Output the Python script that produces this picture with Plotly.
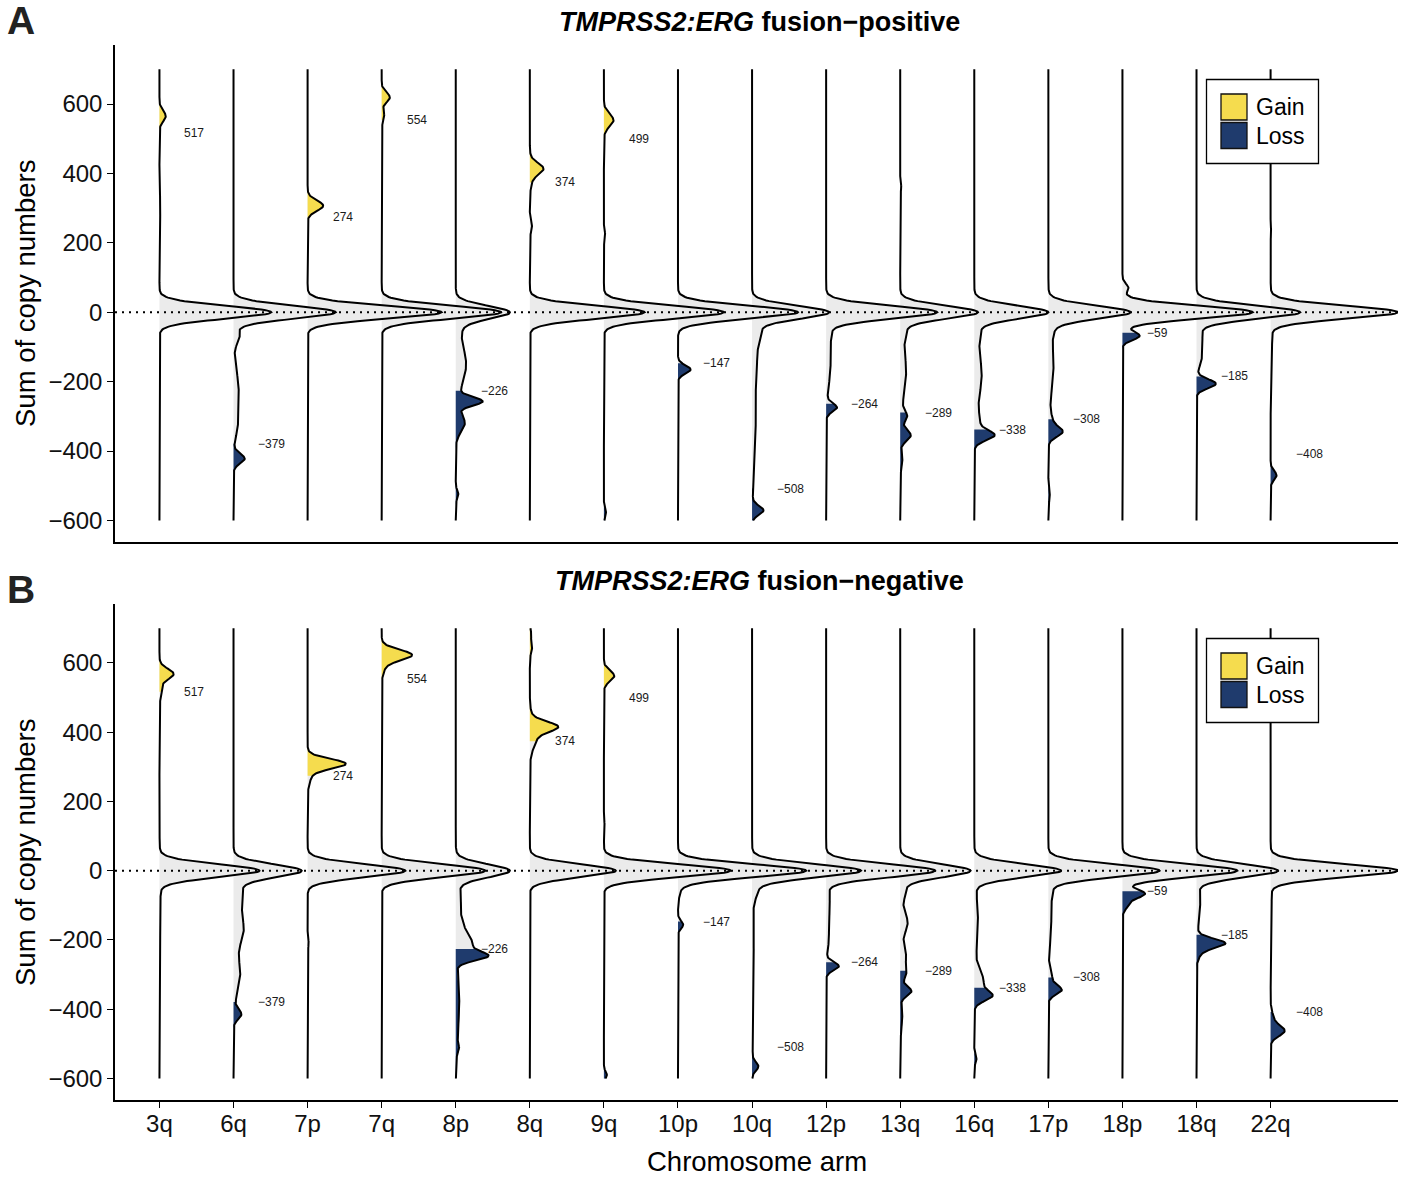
import numpy as np
import plotly.graph_objects as go

# ---------------- data ----------------
ARMS = ["3q", "6q", "7p", "7q", "8p", "8q", "9q", "10p", "10q", "12p",
        "13q", "16q", "17p", "18p", "18q", "22q"]
# labelled gain/loss cut-off per arm (sum of copy numbers)
CUT_VALUES = [517, -379, 274, 554, -226, 374, 499, -147, -508, -264,
              -289, -338, -308, -59, -185, -408]
# un-labelled secondary loss cut-offs
EXTRA_LOSS_ARMS = ["9q"]
EXTRA_LOSS_CUTS = [-560]

Y_TICKS = [-600, -400, -200, 0, 200, 400, 600]
Y_TICK_TEXT = ["\u2212600", "\u2212400", "\u2212200", "0", "200", "400", "600"]
Y_SUPPORT = [-600, 700]
CENTRAL_SD = 18.5

# height of density at 0 (in units of one category spacing)
POS_PEAK = [1.51, 1.38, 1.81, 1.61, 0.73, 1.55, 1.62, 1.62, 1.04, 1.50,
            1.05, 1.00, 1.11, 1.76, 1.40, 1.72]
NEG_PEAK = [1.35, 0.92, 1.32, 1.40, 0.73, 1.16, 1.71, 1.73, 1.47, 1.47,
            0.95, 1.17, 1.50, 1.55, 1.10, 1.72]

# density components: (arm, centre, sd, height)
POS_COMPONENTS = [
    ("3q", 565, 15, 0.085), ("3q", 300, 40, 0.012),
    ("6q", -422, 14, 0.15), ("6q", -70, 20, 0.08), ("6q", -230, 60, 0.07), ("6q", -330, 30, 0.04),
    ("7p", 307, 15, 0.21),
    ("7q", 619, 14, 0.11), ("7q", 565, 15, 0.035),
    ("8p", -257, 12, 0.33), ("8p", -150, 60, 0.14), ("8p", -40, 25, 0.05),
    ("8p", -320, 25, 0.12), ("8p", -525, 12, 0.035),
    ("8q", 414, 16, 0.16), ("8q", 395, 30, 0.03), ("8q", 245, 14, 0.03),
    ("9q", 553, 18, 0.13), ("9q", 220, 12, 0.02), ("9q", -580, 12, 0.03),
    ("10p", -165, 12, 0.17),
    ("10q", -571, 13, 0.15), ("10q", -60, 30, 0.10), ("10q", -150, 60, 0.06), ("10q", -350, 100, 0.05),
    ("12p", -275, 12, 0.14), ("12p", -150, 60, 0.06), ("12p", -60, 25, 0.05),
    ("13q", -355, 16, 0.14), ("13q", -300, 15, 0.08), ("13q", -170, 70, 0.08),
    ("13q", -60, 20, 0.06), ("13q", -430, 20, 0.03), ("13q", 360, 10, 0.015),
    ("16q", -355, 14, 0.24), ("16q", -320, 30, 0.06), ("16q", -180, 70, 0.10), ("16q", -60, 25, 0.06),
    ("17p", -345, 14, 0.16), ("17p", -320, 25, 0.05), ("17p", -150, 80, 0.07),
    ("17p", -50, 20, 0.04), ("17p", -530, 15, 0.02),
    ("18p", -68, 12, 0.23), ("18p", 70, 12, 0.08),
    ("18q", -206, 13, 0.26), ("18q", -80, 40, 0.08), ("18q", -140, 20, 0.04),
    ("22q", -470, 13, 0.08), ("22q", -100, 80, 0.02), ("22q", 230, 10, 0.01),
]
NEG_COMPONENTS = [
    ("3q", 568, 15, 0.19), ("3q", 520, 20, 0.03), ("3q", -100, 100, 0.015),
    ("6q", -415, 14, 0.10), ("6q", -70, 40, 0.12), ("6q", -170, 40, 0.13), ("6q", -300, 50, 0.09),
    ("7p", 309, 14, 0.49), ("7p", 280, 25, 0.05), ("7p", -210, 12, 0.015),
    ("7q", 623, 15, 0.40), ("7q", 590, 20, 0.04),
    ("8p", -247, 13, 0.38), ("8p", -210, 22, 0.20), ("8p", -165, 20, 0.06),
    ("8p", -100, 60, 0.07), ("8p", -400, 80, 0.05), ("8p", -515, 10, 0.03),
    ("8q", 416, 14, 0.30), ("8q", 395, 35, 0.10), ("8q", 640, 12, 0.03), ("8q", 680, 15, 0.02),
    ("9q", 562, 15, 0.14), ("9q", -590, 10, 0.04), ("9q", 120, 15, 0.015),
    ("10p", -156, 11, 0.07), ("10p", -50, 25, 0.03),
    ("10q", -565, 12, 0.08), ("10q", -50, 30, 0.07), ("10q", -300, 150, 0.025),
    ("12p", -276, 12, 0.17), ("12p", -100, 50, 0.05), ("12p", -200, 30, 0.03),
    ("13q", -348, 14, 0.15), ("13q", -300, 15, 0.06), ("13q", -250, 30, 0.08),
    ("13q", -150, 30, 0.10), ("13q", -60, 25, 0.07), ("13q", -430, 30, 0.03),
    ("16q", -362, 14, 0.20), ("16q", -320, 30, 0.12), ("16q", -150, 80, 0.05), ("16q", -545, 10, 0.03),
    ("17p", -345, 13, 0.17), ("17p", -310, 20, 0.05), ("17p", -150, 60, 0.04), ("17p", -60, 25, 0.04),
    ("18p", -66, 12, 0.29), ("18p", -95, 15, 0.08),
    ("18q", -209, 13, 0.35), ("18q", -230, 20, 0.06), ("18q", -100, 50, 0.05),
    ("22q", -463, 15, 0.18), ("22q", -430, 20, 0.04), ("22q", -150, 80, 0.02),
]

PANELS = [
    {"title": "<b><i>TMPRSS2:ERG</i> fusion\u2212positive</b>", "letter": "A",
     "peak": POS_PEAK, "comps": POS_COMPONENTS},
    {"title": "<b><i>TMPRSS2:ERG</i> fusion\u2212negative</b>", "letter": "B",
     "peak": NEG_PEAK, "comps": NEG_COMPONENTS},
]

# ---------------- styling ----------------
W, H = 1411, 1177
ML, MR, MT, MB = 115, 13, 45, 77
PW, PH = W - ML - MR, H - MT - MB
GAIN_COL = "#F5DC4E"
LOSS_COL = "#1F3B6D"
GREY_COL = "#EBEBEB"
FONT = "Liberation Sans, Arial, Helvetica, sans-serif"
X_RANGE = [-0.6, 16.72]
Y_RANGE = [-662, 770]
DOMAINS = [[(H - MB - 542) / PH, 1.0], [0.0, (H - MB - 604) / PH]]


def px_x(px):
    return (px - ML) / PW


def px_y(py):
    return (H - MB - py) / PH


def density(ys, arm, peak, comps):
    parts = [(c, s, h) for a, c, s, h in comps if a == arm]
    at0 = sum(h * np.exp(-c ** 2 / (2 * s ** 2)) for c, s, h in parts)
    f = max(peak - at0, 0.0) * np.exp(-ys ** 2 / (2 * CENTRAL_SD ** 2))
    for c, s, h in parts:
        f = f + h * np.exp(-(ys - c) ** 2 / (2 * s ** 2))
    return f


fig = go.Figure()
cuts_all = CUT_VALUES + EXTRA_LOSS_CUTS
ys = np.union1d(np.arange(Y_SUPPORT[0], Y_SUPPORT[1] + 1, 2), np.array(cuts_all)).astype(float)

annotations = []
shapes = []

for p, panel in enumerate(PANELS):
    xa = "x" if p == 0 else "x2"
    ya = "y" if p == 0 else "y2"
    curves = []
    for i, arm in enumerate(ARMS):
        f = density(ys, arm, panel["peak"][i], panel["comps"])
        curves.append(f)
        # grey fill of whole ridge
        fig.add_trace(go.Scatter(
            x=np.concatenate([[i], i + f, [i]]),
            y=np.concatenate([[ys[0]], ys, [ys[-1]]]),
            fill="toself", fillcolor=GREY_COL, mode="none",
            hoverinfo="skip", showlegend=False, xaxis=xa, yaxis=ya))
        regions = []
        cut = CUT_VALUES[i]
        if cut > 0:
            regions.append((ys >= cut, GAIN_COL))
        else:
            regions.append((ys <= cut, LOSS_COL))
        if arm in EXTRA_LOSS_ARMS:
            regions.append((ys <= EXTRA_LOSS_CUTS[EXTRA_LOSS_ARMS.index(arm)], LOSS_COL))
        for mask, col in regions:
            yy = ys[mask]
            ff = f[mask]
            fig.add_trace(go.Scatter(
                x=np.concatenate([[i], i + ff, [i]]),
                y=np.concatenate([[yy[0]], yy, [yy[-1]]]),
                fill="toself", fillcolor=col, mode="none",
                hoverinfo="skip", showlegend=False, xaxis=xa, yaxis=ya))
    for i, arm in enumerate(ARMS):
        fig.add_trace(go.Scatter(
            x=i + curves[i], y=ys, mode="lines",
            line=dict(color="black", width=2.0),
            hoverinfo="skip", showlegend=False, xaxis=xa, yaxis=ya))
        cut = CUT_VALUES[i]
        annotations.append(dict(
            x=i + 0.31, y=cut, xref=xa, yref=ya, xanchor="left", yanchor="middle",
            text=("\u2212" + str(-cut)) if cut < 0 else str(cut), showarrow=False,
            font=dict(size=12, color="#1a1a1a", family=FONT)))
    # dotted zero line
    shapes.append(dict(type="line", xref=xa + " domain", yref=ya, x0=0, x1=1, y0=0, y1=0,
                       line=dict(color="black", width=2.0, dash="2px,5px"), layer="above"))
    # titles & letters
    off = 0 if p == 0 else 559
    annotations.append(dict(x=px_x(759), y=px_y(22 + off), xref="paper", yref="paper",
                            text=panel["title"], showarrow=False, xanchor="center", yanchor="middle",
                            font=dict(size=27, color="black", family=FONT)))
    annotations.append(dict(x=px_x(21), y=px_y(20 + off + (10 if p else 0)), xref="paper", yref="paper",
                            text="<b>" + panel["letter"] + "</b>", showarrow=False,
                            xanchor="center", yanchor="middle",
                            font=dict(size=39, color="#222", family=FONT)))
    annotations.append(dict(x=px_x(25), y=px_y(294 + off), xref="paper", yref="paper",
                            text="Sum of copy numbers", showarrow=False, textangle=-90,
                            xanchor="center", yanchor="middle",
                            font=dict(size=27.5, color="black", family=FONT)))
    # legend box
    shapes.append(dict(type="rect", xref="paper", yref="paper",
                       x0=px_x(1206.5), x1=px_x(1318.5), y0=px_y(79.5 + off), y1=px_y(163.5 + off),
                       fillcolor="white", line=dict(color="black", width=1.3), layer="above"))
    for k, (lab, col) in enumerate([("Gain", GAIN_COL), ("Loss", LOSS_COL)]):
        top = 94 + off + k * 28.5
        shapes.append(dict(type="rect", xref="paper", yref="paper",
                           x0=px_x(1221), x1=px_x(1247), y0=px_y(top), y1=px_y(top + 26),
                           fillcolor=col, line=dict(color="#111", width=1.3), layer="above"))
        annotations.append(dict(x=px_x(1254), y=px_y(top + 13), xref="paper", yref="paper",
                                text=lab, showarrow=False, xanchor="left", yanchor="middle",
                                font=dict(size=23, color="black", family=FONT)))

annotations.append(dict(x=px_x(757), y=px_y(1161), xref="paper", yref="paper",
                        text="Chromosome arm", showarrow=False, xanchor="center", yanchor="middle",
                        font=dict(size=27.5, color="black", family=FONT)))

axis_common = dict(showgrid=False, zeroline=False, showline=True, linecolor="black",
                   linewidth=1.5, mirror=False)
fig.update_layout(
    width=W, height=H,
    margin=dict(l=ML, r=MR, t=MT, b=MB, pad=0),
    paper_bgcolor="white", plot_bgcolor="white",
    showlegend=False,
    font=dict(family=FONT, color="black"),
    xaxis=dict(domain=[0, 1], anchor="y", range=X_RANGE, showticklabels=False, ticks="",
               **axis_common),
    yaxis=dict(domain=DOMAINS[0], anchor="x", range=Y_RANGE, tickvals=Y_TICKS, ticktext=Y_TICK_TEXT,
               ticks="outside", ticklen=6, tickwidth=1.3, tickcolor="black",
               tickfont=dict(size=24, color="#111"), **axis_common),
    xaxis2=dict(domain=[0, 1], anchor="y2", range=X_RANGE, tickvals=list(range(len(ARMS))),
                ticktext=ARMS, ticks="outside", ticklen=6, tickwidth=1.3, tickcolor="black",
                ticklabelstandoff=-5,
                tickfont=dict(size=24, color="#111"), **axis_common),
    yaxis2=dict(domain=DOMAINS[1], anchor="x2", range=Y_RANGE, tickvals=Y_TICKS, ticktext=Y_TICK_TEXT,
                ticks="outside", ticklen=6, tickwidth=1.3, tickcolor="black",
                tickfont=dict(size=24, color="#111"), **axis_common),
    annotations=annotations,
    shapes=shapes,
)

fig.write_html("out.html")
